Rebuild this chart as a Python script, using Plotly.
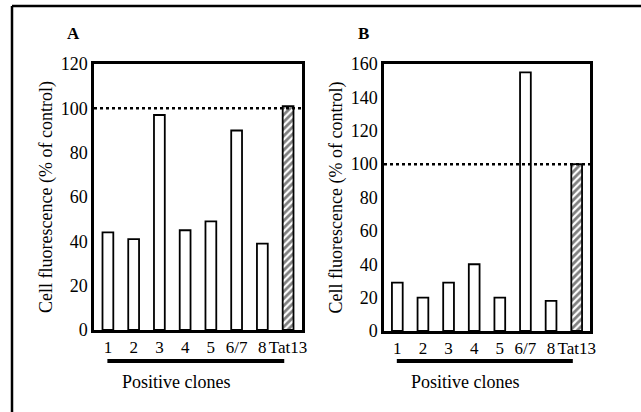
import plotly.graph_objects as go

categories = ["1", "2", "3", "4", "5", "6/7", "8", "Tat13"]
values_a = [44, 41, 97, 45, 49, 90, 39, 101]
values_b = [29, 20, 29, 40, 20, 155, 18, 100]
control_level = 100
y_max_a = 120
y_max_b = 160
ytitle = "Cell fluorescence (% of control)"
group_label = "Positive clones"

W, H = 641, 412
FONT = "'Liberation Serif', 'Times New Roman', Times, serif"

def px_x(p):
    return p / W

def px_y(p):
    return (H - p) / H

fig = go.Figure()

patterns = [""] * 7 + ["/"]

for vals, xa, ya in [(values_a, "x", "y"), (values_b, "x2", "y2")]:
    fig.add_trace(go.Bar(
        x=categories, y=vals, xaxis=xa, yaxis=ya, width=0.42,
        marker=dict(color="white", line=dict(color="black", width=1.8),
                    pattern=dict(shape=patterns, fgcolor="black", bgcolor="white",
                                 size=5, solidity=0.55)),
        showlegend=False,
    ))

axis_common = dict(showline=True, linecolor="black", linewidth=2.5, mirror=True,
                   showgrid=False, zeroline=False, ticks="", automargin=False)

tfont = dict(family=FONT, size=18, color="black")
xtfont = dict(family=FONT, size=17, color="black")

fig.update_layout(
    width=W, height=H,
    margin=dict(l=0, r=0, t=0, b=0, pad=0),
    plot_bgcolor="white", paper_bgcolor="white",
    font=dict(family=FONT, color="black"),
    xaxis=dict(domain=[px_x(94), px_x(302)], range=[-0.54, 7.54], anchor="y",
               type="category", tickangle=0, ticklabelstandoff=0, tickfont=xtfont, **axis_common),
    yaxis=dict(domain=[px_y(330), px_y(64)], range=[0, y_max_a], anchor="x",
               dtick=20, ticklabelstandoff=0, tickfont=tfont,
               title=dict(text=ytitle, font=tfont, standoff=4),
               **axis_common),
    xaxis2=dict(domain=[px_x(384), px_x(590)], range=[-0.52, 7.52], anchor="y2",
                type="category", tickangle=0, ticklabelstandoff=0, tickfont=xtfont, **axis_common),
    yaxis2=dict(domain=[px_y(331), px_y(64)], range=[0, y_max_b], anchor="x2",
                dtick=20, ticklabelstandoff=0, tickfont=tfont,
                title=dict(text=ytitle, font=tfont, standoff=4),
                **axis_common),
)

shapes = []
for xr, yr in [("x domain", "y"), ("x2 domain", "y2")]:
    shapes.append(dict(type="line", xref=xr, yref=yr, x0=0, x1=1, y0=control_level, y1=control_level,
                       line=dict(color="black", width=2.5, dash="dot")))
for xr in ["x", "x2"]:
    shapes.append(dict(type="line", xref=xr, yref="paper", x0=-0.02, x1=6.85,
                       y0=px_y(361), y1=px_y(361), line=dict(color="black", width=4)))
shapes.append(dict(type="line", xref="paper", yref="paper", x0=px_x(12), x1=1.0,
                   y0=px_y(6), y1=px_y(6), line=dict(color="black", width=2.5)))
shapes.append(dict(type="line", xref="paper", yref="paper", x0=px_x(12), x1=px_x(12),
                   y0=px_y(6), y1=0, line=dict(color="black", width=2.5)))
fig.update_layout(shapes=shapes)

annotations = []
for xr in ["x", "x2"]:
    annotations.append(dict(text=group_label, xref=xr, yref="paper", x=2.65, y=px_y(382),
                            xanchor="center", yanchor="middle",
                            showarrow=False, font=tfont))
annotations.append(dict(text="<b>A</b>", xref="paper", yref="paper", x=px_x(73), y=px_y(34),
                        xanchor="center", yanchor="middle",
                        showarrow=False, font=dict(family=FONT, size=17, color="black")))
annotations.append(dict(text="<b>B</b>", xref="paper", yref="paper", x=px_x(363), y=px_y(34),
                        xanchor="center", yanchor="middle",
                        showarrow=False, font=dict(family=FONT, size=17, color="black")))
fig.update_layout(annotations=annotations)

fig.write_html("out.html")
